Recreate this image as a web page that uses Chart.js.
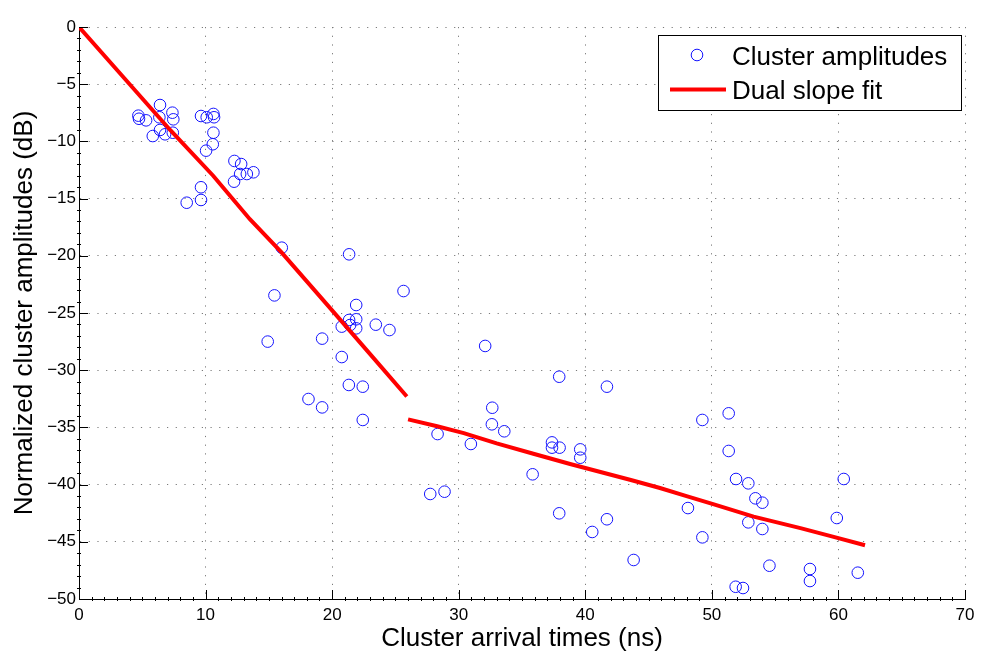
<!DOCTYPE html>
<html>
<head>
<meta charset="utf-8">
<title>Cluster amplitudes vs arrival time</title>
<script src="https://cdn.jsdelivr.net/npm/chart.js@4.4.1/dist/chart.umd.min.js"></script>
<style>
  html, body { margin: 0; padding: 0; background: #fff; }
  #wrap { width: 982px; height: 657px; position: relative; }
</style>
</head>
<body>
<div id="wrap"><canvas id="cv" width="982" height="657"></canvas></div>
<script>
// measured clusters: arrival time (ns) / normalized amplitude (dB)
const clusterTimes = [
  4.69, 4.74, 5.30, 6.40, 6.35, 7.38, 7.45, 6.40, 5.83, 6.80, 7.41,
  9.64, 10.09, 10.62, 10.67, 10.62, 10.57, 10.04,
  12.28, 12.81, 12.73, 13.26, 13.78, 12.25, 9.64, 9.64, 8.51,
  16.02, 21.34, 25.64, 15.44, 21.90, 21.34, 21.90, 20.76, 21.42, 21.90, 23.45, 24.53,
  19.21, 14.91, 20.76, 21.32, 22.42, 18.13, 19.21, 22.42,
  32.09, 37.94, 41.71, 32.65, 32.62, 33.60, 28.33, 30.96,
  37.37, 37.37, 37.97, 39.60, 39.60, 35.84, 27.75, 28.88, 37.94, 41.71, 40.55,
  49.25, 51.33, 51.33, 51.91, 52.88, 60.42, 53.44, 53.99, 48.11, 59.87,
  52.88, 53.99, 49.25, 43.82, 54.55, 57.75, 57.75, 61.53, 51.88, 52.46
];
const clusterAmps = [
  -7.75, -8.02, -8.16, -6.82, -7.89, -7.49, -8.07, -9.00, -9.53, -9.38, -9.24,
  -7.78, -7.89, -7.60, -7.89, -9.24, -10.25, -10.81,
  -11.71, -11.98, -12.85, -12.85, -12.70, -13.52, -14.01, -15.12, -15.36,
  -19.29, -19.87, -23.08, -23.46, -24.30, -25.61, -25.55, -26.19, -26.05, -26.34, -26.02, -26.49,
  -27.24, -27.50, -28.85, -31.29, -31.44, -32.52, -33.25, -34.35,
  -27.88, -30.57, -31.44, -33.28, -34.73, -35.34, -35.58, -36.45,
  -36.31, -36.77, -36.77, -36.92, -37.65, -39.10, -40.82, -40.62, -42.51, -43.03, -44.14,
  -34.35, -33.77, -37.06, -39.51, -39.89, -39.51, -41.20, -41.58, -42.05, -42.92,
  -43.30, -43.88, -44.61, -46.59, -47.09, -47.38, -48.43, -47.70, -48.93, -49.04
];

// dual slope fit, first and second segment
const fit1Times = [0, 3.6, 7.2, 10.6, 13.5, 16.0, 20.1, 23.0, 25.9];
const fit1Amps  = [0, -4.5, -9.0, -13.0, -16.8, -19.7, -24.9, -28.6, -32.3];
const fit2Times = [26.0, 28.3, 30.4, 33.0, 35.9, 38.8, 41.2, 43.6, 45.9, 48.0, 50.1, 53.3, 57.0, 59.4, 62.1];
const fit2Amps  = [-34.3, -34.9, -35.5, -36.4, -37.3, -38.2, -38.9, -39.6, -40.3, -41.0, -41.7, -42.8, -43.8, -44.5, -45.3];

const xTicks = [0, 10, 20, 30, 40, 50, 60, 70];
const yTicks = [0, -5, -10, -15, -20, -25, -30, -35, -40, -45, -50];

(function () {
  'use strict';
  const FONT = '"Liberation Sans", Arial, Helvetica, sans-serif';
  const BLUE = 'rgb(20,20,255)';
  const RED = '#ff0000';
  const fmtTick = (v) => String(v).replace('-', '\u2212');

  const pts = clusterTimes.map((t, i) => ({ x: t, y: clusterAmps[i] }));
  // one dataset, gap between the two segments
  const fitPts = fit1Times.map((t, i) => ({ x: t, y: fit1Amps[i] }))
    .concat([{ x: 25.95, y: null }])
    .concat(fit2Times.map((t, i) => ({ x: t, y: fit2Amps[i] })));

  // inward major/minor tick marks, box-off axes
  const axisTicks = {
    id: 'axisTicks',
    afterDraw(chart) {
      const { ctx, chartArea: a, scales: { x, y } } = chart;
      ctx.save();
      ctx.strokeStyle = '#000';
      ctx.lineWidth = 1;
      ctx.beginPath();
      for (let v = 0; v <= 70; v += 1) {
        const px = Math.round(x.getPixelForValue(v)) + 0.5;
        if (v % 10 === 0) { ctx.moveTo(px, a.bottom); ctx.lineTo(px, a.bottom - 9); }
        else { ctx.moveTo(px, a.bottom + 2); ctx.lineTo(px, a.bottom - 2); }
      }
      for (let v = -50; v <= 0; v += 1) {
        const py = Math.round(y.getPixelForValue(v)) + 0.5;
        if (v % 5 === 0) { ctx.moveTo(a.left, py); ctx.lineTo(a.left + 9, py); }
        else { ctx.moveTo(a.left - 2, py); ctx.lineTo(a.left + 2, py); }
      }
      ctx.stroke();
      ctx.restore();
    },
  };

  // legend box in the upper right of the plot
  const boxLegend = {
    id: 'boxLegend',
    afterDraw(chart) {
      const { ctx, chartArea: a } = chart;
      const w = 303, h = 75;
      const bx = a.right - 4 - w, by = a.top + 8;
      ctx.save();
      ctx.fillStyle = '#fff';
      ctx.fillRect(bx, by, w, h);
      ctx.strokeStyle = '#000';
      ctx.lineWidth = 1;
      ctx.strokeRect(Math.round(bx) + 0.5, Math.round(by) + 0.5, w, h);
      ctx.beginPath();
      ctx.arc(bx + 39, by + 20, 5.8, 0, Math.PI * 2);
      ctx.strokeStyle = BLUE;
      ctx.stroke();
      ctx.beginPath();
      ctx.moveTo(bx + 12, by + 54.5);
      ctx.lineTo(bx + 68, by + 54.5);
      ctx.strokeStyle = RED;
      ctx.lineWidth = 4;
      ctx.stroke();
      ctx.fillStyle = '#000';
      ctx.font = '26px ' + FONT;
      ctx.textBaseline = 'middle';
      ctx.textAlign = 'left';
      ctx.fillText('Cluster amplitudes', bx + 74, by + 23);
      ctx.fillText('Dual slope fit', bx + 74, by + 57);
      ctx.restore();
    },
  };

  new Chart(document.getElementById('cv').getContext('2d'), {
    type: 'scatter',
    data: {
      datasets: [
        {
          label: 'Cluster amplitudes',
          data: pts,
          pointStyle: 'circle',
          pointRadius: 5.8,
          pointBorderWidth: 1,
          pointBorderColor: BLUE,
          pointBackgroundColor: 'rgba(0,0,0,0)',
          order: 2,
        },
        {
          label: 'Dual slope fit',
          data: fitPts,
          showLine: true,
          spanGaps: false,
          borderColor: RED,
          borderWidth: 4,
          pointRadius: 0,
          tension: 0,
          order: 1,
        },
      ],
    },
    options: {
      responsive: false,
      animation: false,
      devicePixelRatio: 1,
      layout: { padding: { left: 0, right: 17, top: 27, bottom: 0 } },
      plugins: { legend: { display: false }, tooltip: { enabled: false } },
      scales: {
        x: {
          type: 'linear',
          min: 0, max: 70,
          afterFit: (s) => { s.height = 58; },
          afterBuildTicks: (s) => { s.ticks = xTicks.map((v) => ({ value: v })); },
          ticks: { color: '#000', padding: 6, font: { family: FONT, size: 17 }, callback: fmtTick, maxRotation: 0 },
          grid: {
            drawTicks: false,
            color: (c) => (c.tick && c.tick.value === 0 ? 'rgba(0,0,0,0)' : '#7a7a7a'),
            lineWidth: 1,
          },
          border: { display: true, color: '#000', width: 1, dash: [1.2, 7.5] },
          title: { display: true, text: 'Cluster arrival times (ns)', color: '#000', font: { family: FONT, size: 26 }, padding: { top: 0, bottom: 3 } },
        },
        y: {
          type: 'linear',
          min: -50, max: 0,
          afterFit: (s) => { s.width = 79; },
          afterBuildTicks: (s) => { s.ticks = yTicks.slice().reverse().map((v) => ({ value: v })); },
          ticks: { color: '#000', padding: 3, font: { family: FONT, size: 17 }, callback: fmtTick },
          grid: {
            drawTicks: false,
            color: (c) => (c.tick && c.tick.value === -50 ? 'rgba(0,0,0,0)' : '#7a7a7a'),
            lineWidth: 1,
          },
          border: { display: true, color: '#000', width: 1, dash: [1.2, 7.5] },
          title: { display: true, text: 'Normalized cluster amplitudes (dB)', color: '#000', font: { family: FONT, size: 26 }, padding: { top: 9, bottom: 0 } },
        },
      },
    },
    plugins: [axisTicks, boxLegend],
  });
})();
</script>
</body>
</html>
